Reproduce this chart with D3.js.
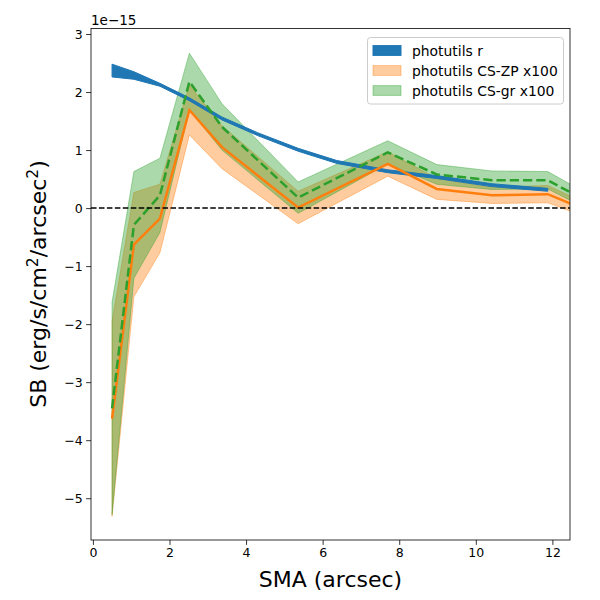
<!DOCTYPE html>
<html><head><meta charset="utf-8">
<script src="https://cdn.jsdelivr.net/npm/d3@7"></script>
<style>body{margin:0;background:#fff}svg{display:block;font-family:"DejaVu Sans",sans-serif}</style>
</head><body><svg id="c" width="600" height="600"></svg>
<script>
// photutils r profile
const smaR = [0.5, 1.07, 1.75, 2.52, 3.37, 4.3, 5.36, 6.37, 7.70, 8.98, 10.42, 11.88];
const rLo  = [2.26, 2.22, 2.10, 1.85, 1.52, 1.25, 0.98, 0.77, 0.61, 0.51, 0.37, 0.29];
const rHi  = [2.48, 2.35, 2.15, 1.90, 1.57, 1.30, 1.03, 0.82, 0.66, 0.56, 0.42, 0.34];
// CS profiles (x100)
const sma  = [0.5, 1.07, 1.75, 2.52, 3.37, 5.36, 7.70, 8.98, 10.42, 11.88, 12.5];
const zp   = [-3.63, -0.63, -0.18, 1.69, 1.05, 0.01, 0.76, 0.33, 0.22, 0.24, 0.07];
const zpLo = [-5.31, -1.53, -0.77, 1.26, 0.68, -0.27, 0.55, 0.15, 0.08, 0.09, -0.06];
const zpHi = [-1.95, 0.27, 0.41, 2.12, 1.42, 0.29, 0.97, 0.51, 0.36, 0.39, 0.20];
const gr   = [-3.45, -0.29, 0.22, 2.18, 1.40, 0.18, 0.96, 0.58, 0.48, 0.48, 0.26];
const grLo = [-5.28, -1.21, -0.42, 1.69, 1.00, -0.09, 0.76, 0.41, 0.32, 0.33, 0.12];
const grHi = [-1.62, 0.63, 0.86, 2.67, 1.80, 0.45, 1.16, 0.75, 0.64, 0.63, 0.40];
const xTicks = [0, 2, 4, 6, 8, 10, 12];
const yTicks = [-5, -4, -3, -2, -1, 0, 1, 2, 3];
const legendLabels = ["photutils r", "photutils CS-ZP x100", "photutils CS-gr x100"];

const L = 91, R = 570, T = 28.5, B = 540;
const svg = d3.select("#c");
const x = d3.scaleLinear().domain([-0.05, 12.46]).range([L, R]);
const y = d3.scaleLinear().domain([-5.72, 3.095]).range([B, T]);
const blue = "#1f77b4", orange = "#ff7f0e", green = "#2ca02c";

svg.append("defs").append("clipPath").attr("id", "clip")
  .append("rect").attr("x", L).attr("y", T).attr("width", R - L).attr("height", B - T);
const g = svg.append("g").attr("clip-path", "url(#clip)");

function band(xs, lo, hi) {
  return d3.area().x((d, i) => x(xs[i])).y0((d, i) => y(lo[i])).y1((d, i) => y(hi[i]))(xs);
}
function line(xs, v) {
  return d3.line().x((d, i) => x(xs[i])).y((d, i) => y(v[i]))(xs);
}

g.append("path").attr("d", band(sma, zpLo, zpHi)).attr("fill", orange).attr("fill-opacity", 0.4)
  .attr("stroke", orange).attr("stroke-opacity", 0.4).attr("stroke-width", 1);
g.append("path").attr("d", band(sma, grLo, grHi)).attr("fill", green).attr("fill-opacity", 0.4)
  .attr("stroke", green).attr("stroke-opacity", 0.4).attr("stroke-width", 1);
g.append("path").attr("d", band(smaR, rLo, rHi)).attr("fill", blue).attr("stroke", blue).attr("stroke-width", 1);
g.append("path").attr("d", line(sma, zp)).attr("fill", "none").attr("stroke", orange).attr("stroke-width", 2.5);
g.append("path").attr("d", line(sma, gr)).attr("fill", "none").attr("stroke", green).attr("stroke-width", 2.5)
  .attr("stroke-dasharray", "9.25,4");
// zero line
g.append("line").attr("x1", L).attr("x2", R).attr("y1", y(0)).attr("y2", y(0))
  .attr("stroke", "#000").attr("stroke-width", 1.5).attr("stroke-dasharray", "5.55,2.4");

// axes
const fmt = d => (d < 0 ? "\u2212" + Math.abs(d) : "" + d);
const xa = svg.append("g").attr("transform", `translate(0,${B})`)
  .call(d3.axisBottom(x).tickValues(xTicks).tickFormat(fmt).tickSize(4.9).tickPadding(3.5));
const ya = svg.append("g").attr("transform", `translate(${L},0)`)
  .call(d3.axisLeft(y).tickValues(yTicks).tickFormat(fmt).tickSize(4.9).tickPadding(3.5));
[xa, ya].forEach(a => {
  a.select(".domain").remove();
  a.selectAll("line").attr("stroke", "#000").attr("stroke-width", 0.8);
  a.selectAll("text").attr("fill", "#000").style("font-size", "12.5px").style("font-family", "DejaVu Sans");
});
svg.append("rect").attr("x", L).attr("y", T).attr("width", R - L).attr("height", B - T)
  .attr("fill", "none").attr("stroke", "#000").attr("stroke-width", 0.8);

// offset text
svg.append("text").attr("x", L).attr("y", 25).style("font-size", "13.5px").text("1e\u221215");

// labels
svg.append("text").attr("x", (L + R) / 2).attr("y", 587).attr("text-anchor", "middle")
  .style("font-size", "22px").text("SMA (arcsec)");
const yl = svg.append("text").attr("transform", "translate(46,284) rotate(-90)")
  .attr("text-anchor", "middle").style("font-size", "22px");
yl.append("tspan").text("SB (erg/s/cm");
yl.append("tspan").attr("dy", -8).style("font-size", "15.5px").text("2");
yl.append("tspan").attr("dy", 8).text("/arcsec");
yl.append("tspan").attr("dy", -8).style("font-size", "15.5px").text("2");
yl.append("tspan").attr("dy", 8).text(")");

// legend
const lg = svg.append("g");
lg.append("rect").attr("x", 367.5).attr("y", 37.5).attr("width", 196).attr("height", 66.5)
  .attr("rx", 3).attr("fill", "#fff").attr("fill-opacity", 0.8).attr("stroke", "#ccc").attr("stroke-width", 1);
const rows = [50.5, 70.5, 90.5];
const lcol = [[blue, 1], [orange, 0.4], [green, 0.4]];
legendLabels.forEach((t, i) => {
  lg.append("rect").attr("x", 373).attr("y", rows[i] - 4.9).attr("width", 28).attr("height", 9.8)
    .attr("fill", lcol[i][0]).attr("fill-opacity", lcol[i][1])
    .attr("stroke", lcol[i][0]).attr("stroke-opacity", lcol[i][1]).attr("stroke-width", 1);
  lg.append("text").attr("x", 412).attr("y", rows[i] + 5).style("font-size", "13.9px").text(t);
});
</script></body></html>
